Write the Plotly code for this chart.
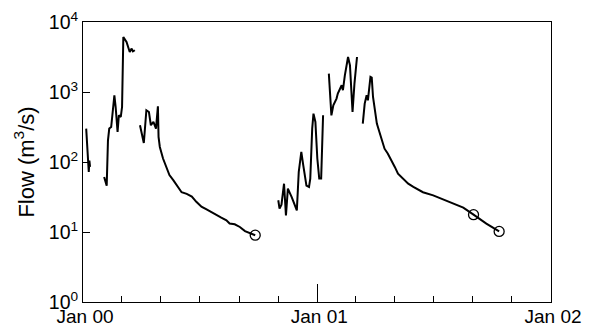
import plotly.graph_objects as go

# Segment data (dates, flow in m3/s)
seg1_dates = ["2000-01-06", "2000-01-08", "2000-01-09", "2000-01-10", "2000-01-11", "2000-01-12"]
seg1_flow = [300, 163, 100, 72, 105, 85]

seg2_dates = ["2000-02-03", "2000-02-07", "2000-02-09", "2000-02-11", "2000-02-14", "2000-02-17",
              "2000-02-19", "2000-02-21", "2000-02-24", "2000-02-26", "2000-02-29", "2000-03-02",
              "2000-03-04", "2000-03-09", "2000-03-12", "2000-03-14", "2000-03-17", "2000-03-19",
              "2000-03-22"]
seg2_flow = [61, 46, 204, 300, 316, 683, 897, 610, 268, 464, 440, 610,
             6100, 5180, 4390, 3730, 4170, 3800, 3950]

seg3_dates = ["2000-03-30", "2000-04-05", "2000-04-09", "2000-04-13", "2000-04-16", "2000-04-20",
              "2000-04-24", "2000-04-27", "2000-04-28", "2000-04-30", "2000-05-05", "2000-05-10",
              "2000-05-15", "2000-05-21", "2000-05-29", "2000-06-03", "2000-06-11", "2000-06-19",
              "2000-06-26", "2000-07-04", "2000-07-12", "2000-07-20", "2000-07-28", "2000-08-04",
              "2000-08-12", "2000-08-17", "2000-08-25", "2000-09-02", "2000-09-10", "2000-09-17",
              "2000-09-22", "2000-09-26"]
seg3_flow = [335, 187, 548, 518, 335, 373, 300, 625, 228, 164, 112, 85,
             65, 55, 44, 37, 35, 32, 27, 23, 21, 19, 17.3, 16,
             14.7, 13.2, 12.9, 11.8, 10.3, 9.7, 9.3, 9.0]

seg4_dates = ["2000-11-01", "2000-11-03", "2000-11-06", "2000-11-10", "2000-11-13", "2000-11-16",
              "2000-11-22", "2000-11-27", "2000-11-30", "2000-12-03", "2000-12-07", "2000-12-10",
              "2000-12-15", "2000-12-19", "2000-12-21", "2000-12-24", "2000-12-26", "2000-12-29",
              "2001-01-01", "2001-01-04", "2001-01-07", "2001-01-10"]
seg4_flow = [28.4, 21.6, 24.6, 49, 17.3, 41.7, 31.6, 24, 20.4, 72, 139, 90,
             46, 44, 58, 300, 491, 373, 112, 58, 58, 464]

seg5_dates = ["2001-01-19", "2001-01-23", "2001-01-26", "2001-01-31", "2001-02-02", "2001-02-08",
              "2001-02-10", "2001-02-13", "2001-02-18", "2001-02-21", "2001-02-25", "2001-02-28",
              "2001-03-04"]
seg5_flow = [1830, 464, 645, 805, 950, 1250, 1060, 1730, 3160, 2400, 518, 1320, 3160]

seg6_dates = ["2001-03-13", "2001-03-16", "2001-03-19", "2001-03-21", "2001-03-25", "2001-03-27",
              "2001-03-29", "2001-04-01", "2001-04-04", "2001-04-08", "2001-04-13", "2001-04-16",
              "2001-04-21", "2001-04-27", "2001-05-02", "2001-05-07", "2001-05-15", "2001-05-23",
              "2001-05-31", "2001-06-15", "2001-07-01", "2001-07-17", "2001-08-01", "2001-08-17",
              "2001-09-02", "2001-09-22", "2001-10-12"]
seg6_flow = [354, 683, 897, 761, 1640, 1600, 849, 518, 354, 268, 183, 155,
             132, 106, 85, 68, 58, 49, 44, 37, 33.4, 29, 26, 22.3,
             17.7, 13.2, 10.2]

circle_dates = ["2000-09-26", "2001-09-02", "2001-10-12"]
circle_flow = [9.0, 17.7, 10.2]

y_tickvals = [1, 10, 100, 1000, 10000]
y_ticktext = ["10<sup>0</sup>", "10<sup>1</sup>", "10<sup>2</sup>", "10<sup>3</sup>", "10<sup>4</sup>"]
x_tickvals = ["2000-01-01", "2001-01-01", "2002-01-01"]
x_ticktext = ["Jan 00", "Jan 01", "Jan 02"]

segments = [(seg1_dates, seg1_flow), (seg2_dates, seg2_flow), (seg3_dates, seg3_flow),
            (seg4_dates, seg4_flow), (seg5_dates, seg5_flow), (seg6_dates, seg6_flow)]
xs, ys = [], []
for d, f in segments:
    xs += d + [None]
    ys += f + [None]

fig = go.Figure()
fig.add_trace(go.Scatter(x=xs, y=ys, mode="lines", connectgaps=False,
                         line=dict(color="black", width=2), showlegend=False))
fig.add_trace(go.Scatter(x=circle_dates, y=circle_flow, mode="markers",
                         marker=dict(symbol="circle-open", size=10, color="black",
                                     line=dict(width=1.3, color="black")),
                         showlegend=False))

font_family = "Liberation Sans, Arial, sans-serif"
fig.update_layout(
    width=591, height=327,
    margin=dict(l=83, r=40, t=22, b=25, autoexpand=False),
    paper_bgcolor="white", plot_bgcolor="white",
    font=dict(family=font_family, size=19.5, color="black"),
    xaxis=dict(
        type="date", range=["2000-01-01", "2002-01-01"],
        tickvals=x_tickvals, ticktext=x_ticktext,
        ticks="inside", ticklen=18, tickwidth=1, tickcolor="black",
        minor=dict(dtick="M2", tick0="2000-01-01", ticks="inside", ticklen=6,
                   tickwidth=1, tickcolor="black", showgrid=False),
        showline=True, linecolor="black", linewidth=1, mirror=True,
        showgrid=False, zeroline=False, automargin=False,
        tickfont=dict(size=19), ticklabelstandoff=-3, ticklabelshift=2,
    ),
    yaxis=dict(
        type="log", range=[0, 4],
        tickvals=y_tickvals, ticktext=y_ticktext,
        ticks="inside", ticklen=7, tickwidth=1, tickcolor="black",
        showline=True, linecolor="black", linewidth=1, mirror=True,
        showgrid=False, zeroline=False, automargin=False,
        tickfont=dict(size=19.5),
        title=dict(text="Flow (m<sup>3</sup>/s)", font=dict(size=22), standoff=8),
    ),
)

fig.write_html("out.html")
